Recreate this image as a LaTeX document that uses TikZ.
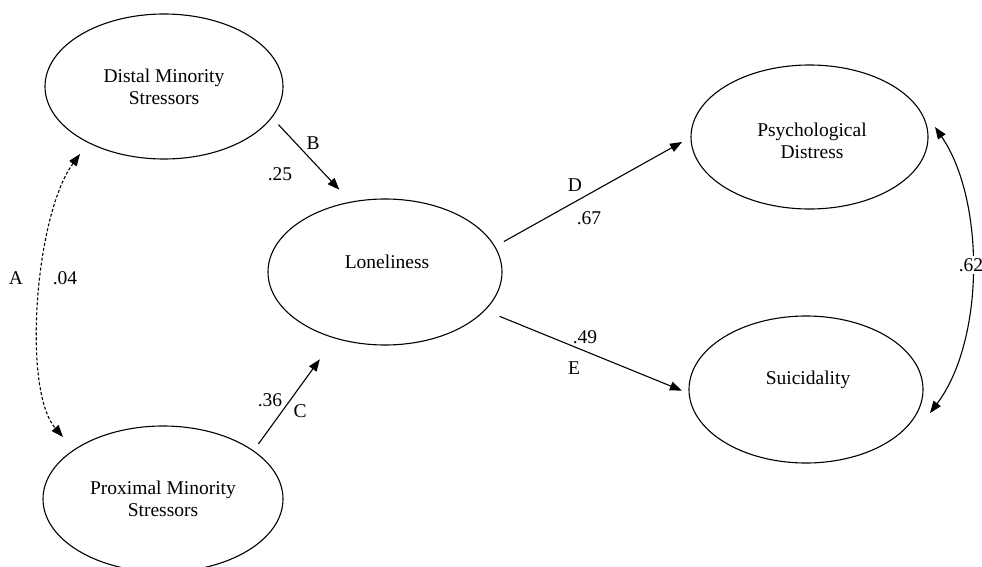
\documentclass[tikz,border=0pt]{standalone}
\usepackage{fontspec}
\setmainfont{Liberation Serif}
\usetikzlibrary{arrows.meta,shapes.geometric}
\begin{document}
\begin{tikzpicture}[x=1pt,y=-1pt,
  ell/.style={ellipse,draw,line width=1.1pt,inner sep=0pt,outer sep=0pt},
  txt/.style={font=\fontsize{19.5}{21.7}\selectfont,align=center,inner sep=0pt},
  lbl/.style={font=\fontsize{19.5}{21.7}\selectfont,inner sep=1pt},
  arr/.style={line width=1.1pt,-{Triangle[length=12pt,width=9pt]}},
  darr/.style={line width=1.1pt,dash pattern=on 3pt off 2pt,{Triangle[length=12pt,width=9pt]}-{Triangle[length=12pt,width=9pt]}},
  carr/.style={line width=1.1pt,{Triangle[length=12pt,width=9pt]}-{Triangle[length=12pt,width=9pt]}}]
\useasboundingbox (0,0) rectangle (982,567);
% ellipses
\node[ell,minimum width=238,minimum height=145] (distal) at (164,86.5) {};
\node[ell,minimum width=240,minimum height=146] (proximal) at (163,499) {};
\node[ell,minimum width=234,minimum height=146] (lonely) at (385,272) {};
\node[ell,minimum width=237,minimum height=144] (psych) at (809.5,137) {};
\node[ell,minimum width=234,minimum height=147] (suic) at (806,389.5) {};
% texts
\node[txt] (distalT) at (164,87) {Distal Minority\\Stressors};
\node[txt] (proximalT) at (163,499) {Proximal Minority\\Stressors};
\node[txt] (lonelyT) at (387,262) {Loneliness};
\node[txt] (psychT) at (812,141) {Psychological\\Distress};
\node[txt] (suicT) at (808,380) {Suicidality};
% straight arrows
\draw[arr,shorten <=10pt,shorten >=17pt] (distal.-16.9) -- (lonely.116.9);
\draw[arr,shorten <=8.6pt,shorten >=26.2pt] (proximal.28.9) -- (lonely.-127.4);
\draw[arr,shorten <=10.5pt,shorten >=10.2pt] (lonely.13.9) -- (psych.180);
\draw[arr,shorten <=16.2pt,shorten >=7.9pt] (lonely.-21.5) -- (suic.182.7);
% curved arrows
\coordinate (aTop) at (80,154);
\coordinate (aBot) at (63,437);
\draw[darr] (aTop) .. controls (35,215) and (22,390) .. (aBot);
\coordinate (rTop) at (935,127);
\coordinate (rBot) at (930,413);
\draw[carr] (rTop) .. controls (985,200) and (985,340) .. (rBot);
% labels
\node[lbl] (lB) at (313,143) {B};
\node[lbl] (l25) at (280,174) {.25};
\node[lbl] (l36) at (270,400) {.36};
\node[lbl] (lC) at (300,411) {C};
\node[lbl] (lD) at (575,185) {D};
\node[lbl] (l67) at (589,218) {.67};
\node[lbl] (l49) at (585,337) {.49};
\node[lbl] (lE) at (574,368) {E};
\node[lbl] (lA) at (16,278) {A};
\node[lbl] (l04) at (65,278) {.04};
\node[lbl,fill=white,inner sep=2pt] (l62) at (971,265) {.62};
\end{tikzpicture}
\end{document}
